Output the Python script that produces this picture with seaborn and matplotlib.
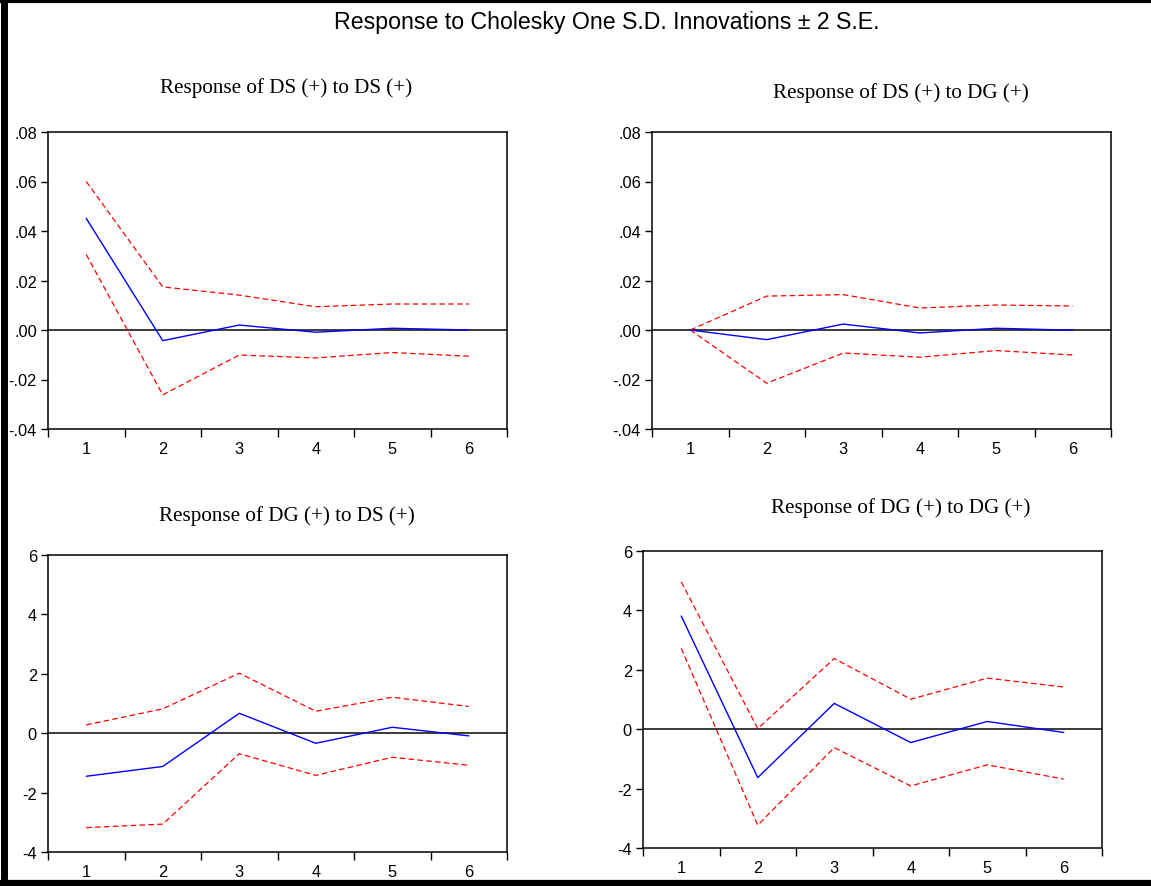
import numpy as np
import pandas as pd
import matplotlib
matplotlib.use("Agg")
import matplotlib.pyplot as plt
import seaborn as sns
from matplotlib.ticker import FixedLocator, FuncFormatter, NullFormatter
from matplotlib.lines import Line2D

# ---------------- data ----------------
periods = [1, 2, 3, 4, 5, 6]

ds_ds_resp = [0.0451, -0.0043, 0.0020, -0.0009, 0.0007, 0.0000]
ds_ds_up = [0.0600, 0.0174, 0.0141, 0.0094, 0.0105, 0.0105]
ds_ds_lo = [0.0305, -0.0262, -0.0101, -0.0113, -0.0091, -0.0106]

ds_dg_resp = [0.0000, -0.0039, 0.0024, -0.0012, 0.0007, -0.0001]
ds_dg_up = [0.0000, 0.0137, 0.0143, 0.0089, 0.0101, 0.0097]
ds_dg_lo = [0.0000, -0.0215, -0.0093, -0.0110, -0.0083, -0.0101]

dg_ds_resp = [-1.45, -1.12, 0.67, -0.34, 0.20, -0.09]
dg_ds_up = [0.28, 0.82, 2.02, 0.74, 1.21, 0.90]
dg_ds_lo = [-3.18, -3.06, -0.69, -1.42, -0.81, -1.08]

dg_dg_resp = [3.81, -1.63, 0.87, -0.45, 0.26, -0.11]
dg_dg_up = [4.96, 0.02, 2.38, 1.01, 1.72, 1.42]
dg_dg_lo = [2.72, -3.23, -0.62, -1.91, -1.20, -1.68]

main_title = "Response to Cholesky One S.D. Innovations \u00b1 2 S.E."
panel_titles = ["Response of DS (+) to DS (+)", "Response of DS (+) to DG (+)",
                "Response of DG (+) to DS (+)", "Response of DG (+) to DG (+)"]
ds_ticks = [-0.04, -0.02, 0.00, 0.02, 0.04, 0.06, 0.08]
dg_ticks = [-4, -2, 0, 2, 4, 6]

# ---------------- style ----------------
sns.set_style("ticks")
plt.rcParams['font.family'] = ['Liberation Sans', 'DejaVu Sans']

W, H = 1151, 887
fig = plt.figure(figsize=(W / 100, H / 100), dpi=100)
fig.patch.set_facecolor("white")

def fr(x0, y_top, x1, y_bot):
    return [x0 / W, 1 - y_bot / H, (x1 - x0) / W, (y_bot - y_top) / H]

panels = [
    dict(rect=fr(48, 133, 507, 430), resp=ds_ds_resp, up=ds_ds_up, lo=ds_ds_lo,
         ticks=ds_ticks, lim=(-0.04, 0.08), title=panel_titles[0], tpos=(286, 88)),
    dict(rect=fr(652, 133, 1111, 430), resp=ds_dg_resp, up=ds_dg_up, lo=ds_dg_lo,
         ticks=ds_ticks, lim=(-0.04, 0.08), title=panel_titles[1], tpos=(901, 93)),
    dict(rect=fr(48, 556, 507, 853), resp=dg_ds_resp, up=dg_ds_up, lo=dg_ds_lo,
         ticks=dg_ticks, lim=(-4, 6), title=panel_titles[2], tpos=(287, 516)),
    dict(rect=fr(643, 552, 1102, 849), resp=dg_dg_resp, up=dg_dg_up, lo=dg_dg_lo,
         ticks=dg_ticks, lim=(-4, 6), title=panel_titles[3], tpos=(901, 508)),
]

def fmt_small(v, pos):
    s = f"{v:.2f}"
    s = s.replace("0.", ".", 1)
    return s

def fmt_int(v, pos):
    return f"{int(round(v))}"

dash = (0, (4.5, 2.6))
for i, p in enumerate(panels):
    ax = fig.add_axes(p["rect"])
    df = pd.DataFrame({"period": periods, "resp": p["resp"], "up": p["up"], "lo": p["lo"]})
    ax.axhline(0, color="#3a3a3a", lw=1.4, zorder=1)
    sns.lineplot(data=df, x="period", y="up", ax=ax, color="#ff0000", lw=0.9,
                 linestyle=dash, zorder=2)
    sns.lineplot(data=df, x="period", y="lo", ax=ax, color="#ff0000", lw=0.9,
                 linestyle=dash, zorder=2)
    sns.lineplot(data=df, x="period", y="resp", ax=ax, color="#0000ff", lw=1.0, zorder=3)

    ax.set_xlim(0.5, 6.5)
    ax.set_ylim(*p["lim"])
    ax.set_xlabel("")
    ax.set_ylabel("")
    ax.xaxis.set_major_locator(FixedLocator(np.arange(0.5, 7.0, 1.0)))
    ax.xaxis.set_major_formatter(NullFormatter())
    ax.xaxis.set_minor_locator(FixedLocator(periods))
    ax.xaxis.set_minor_formatter(FuncFormatter(lambda v, pos: f"{int(v)}"))
    ax.tick_params(axis="x", which="major", direction="out", length=6, width=1.0, color="black")
    ax.tick_params(axis="x", which="minor", length=0, pad=9, labelsize=11.8, labelcolor="black")
    ax.yaxis.set_major_locator(FixedLocator(p["ticks"]))
    ax.yaxis.set_major_formatter(FuncFormatter(fmt_small if i < 2 else fmt_int))
    ax.tick_params(axis="y", which="major", direction="out", length=5, width=1.0,
                   pad=3, labelsize=11.8, labelcolor="black", color="black")
    for s in ax.spines.values():
        s.set_visible(True)
        s.set_color("black")
        s.set_linewidth(1.1)
    ax.set_facecolor("white")

    fig.text(p["tpos"][0] / W, 1 - p["tpos"][1] / H, p["title"],
             family=["Liberation Serif", "DejaVu Serif"], fontsize=15.2,
             ha="center", va="center", color="black")

fig.text(607 / W, 1 - 22 / H, main_title, fontsize=16.7, ha="center", va="center", color="black")

# outer frame (left, top, bottom)
fig.add_artist(Line2D([3.5 / W, 3.5 / W], [0, 1], transform=fig.transFigure, color="black", lw=5.0))
fig.add_artist(Line2D([0, 1], [1 - 2 / H, 1 - 2 / H], transform=fig.transFigure, color="black", lw=3.0))
fig.add_artist(Line2D([0, 1], [3 / H, 3 / H], transform=fig.transFigure, color="black", lw=4.5))

fig.savefig("out.png", dpi=100, facecolor="white")
